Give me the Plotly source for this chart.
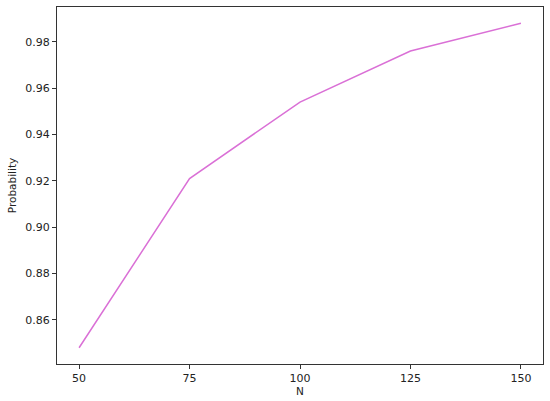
import plotly.graph_objects as go

n_values = [50, 75, 100, 125, 150]
probability = [0.848, 0.921, 0.954, 0.976, 0.988]
x_ticks = [50, 75, 100, 125, 150]
y_ticks = [0.86, 0.88, 0.90, 0.92, 0.94, 0.96, 0.98]

fig = go.Figure(go.Scatter(
    x=n_values, y=probability, mode="lines",
    line=dict(color="orchid", width=1.5)
))

axis_style = dict(
    showgrid=False, zeroline=False, showline=True, linecolor="#333333", linewidth=1,
    mirror=True, ticks="outside", ticklen=4, tickcolor="#333333",
    tickfont=dict(size=11, color="#222222"), automargin=False,
)

fig.update_layout(
    width=550, height=401,
    margin=dict(l=57, r=7, t=7, b=37),
    paper_bgcolor="white", plot_bgcolor="white",
    font=dict(family="DejaVu Sans", size=10.5, color="#222222"),
    showlegend=False,
    xaxis=dict(axis_style, range=[45, 155], tickvals=x_ticks,
               title=dict(text="N", standoff=2, font=dict(size=10.5))),
    yaxis=dict(axis_style, range=[0.841, 0.995], tickvals=y_ticks, tickformat=".2f",
               title=dict(text="Probability", standoff=6, font=dict(size=10.5))),
)

# drop the default page margin so the figure sits at the window's corner
fig.write_html("out.html", config={"displayModeBar": False},
               post_script="document.body.style.margin='0';")
